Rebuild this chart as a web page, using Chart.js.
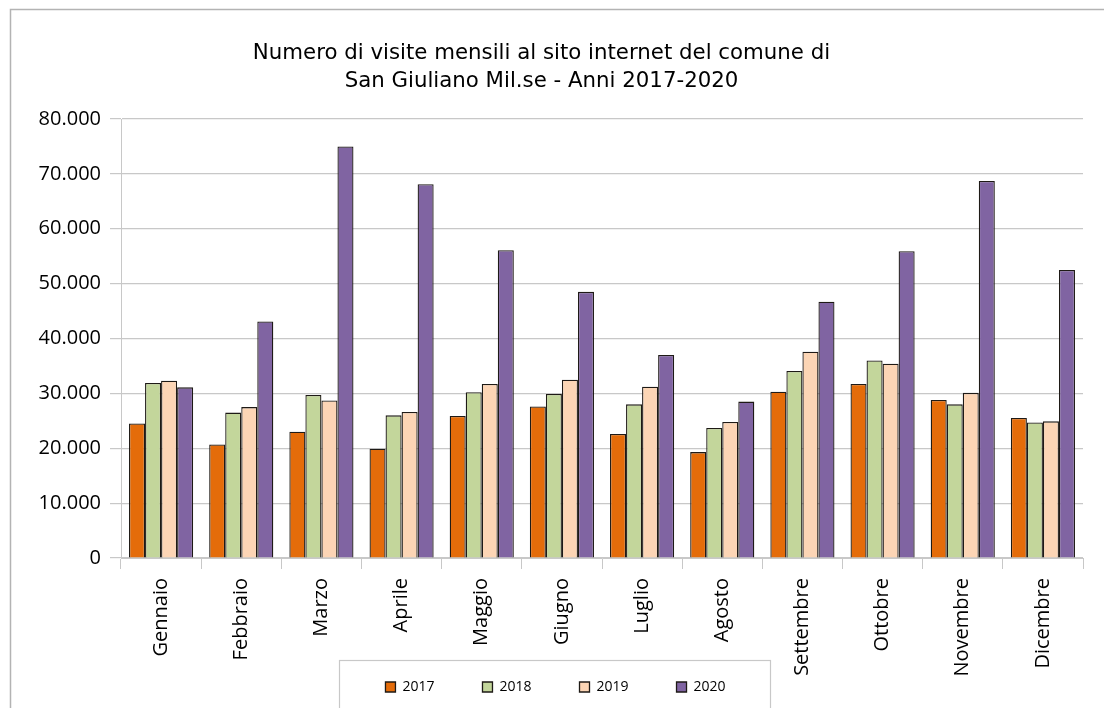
<!DOCTYPE html>
<html>
<head>
<meta charset="utf-8">
<script src="https://cdn.jsdelivr.net/npm/chart.js@4/dist/chart.umd.min.js"></script>
<style>
  html, body { margin: 0; padding: 0; background: #ffffff; }
  #wrap { width: 1104px; height: 708px; }
</style>
</head>
<body>
<div id="wrap"><canvas id="c" width="1104" height="708"></canvas></div>
<script>
const months = ["Gennaio","Febbraio","Marzo","Aprile","Maggio","Giugno","Luglio","Agosto","Settembre","Ottobre","Novembre","Dicembre"];
const seriesNames = ["2017","2018","2019","2020"];
const visits2017 = [24500, 20700, 23000, 19900, 25900, 27600, 22600, 19300, 30300, 31700, 28800, 25500];
const visits2018 = [31900, 26500, 29700, 26000, 30200, 29900, 28000, 23700, 34100, 36000, 28000, 24700];
const visits2019 = [32300, 27500, 28700, 26600, 31700, 32500, 31200, 24800, 37600, 35400, 30100, 24900];
const visits2020 = [31100, 43100, 75000, 68100, 56100, 48500, 37000, 28500, 46700, 55900, 68700, 52500];
const titleLines = ["Numero di visite mensili al sito internet del comune di", "San Giuliano Mil.se - Anni 2017-2020"];
const yMin = 0, yMax = 80000, yStep = 10000;

const colors = ["#e46c0a", "#c3d69b", "#fcd5b5", "#8064a2"];
const allSeries = [visits2017, visits2018, visits2019, visits2020];
const LEGEND_PAD = 48;

function fmt(v) {
  return String(v).replace(/\B(?=(\d{3})+(?!\d))/g, ".");
}

const framePlugin = {
  id: "frames",
  afterLayout(chart) {
    const xs = chart.scales.x;
    // let rotated month labels extend below the (shortened) axis box
    xs._computeLabelArea = function () {
      return { top: this.top, left: 0, bottom: this.chart.height, right: this.chart.width };
    };
    // legend sits slightly right of the canvas centre
    const lg = chart.legend;
    if (lg) lg.left += 28;
  },
  afterDraw(chart) {
    const ctx = chart.ctx;
    ctx.save();
    // outer chart border (top & left visible)
    ctx.strokeStyle = "#b3b3b3";
    ctx.lineWidth = 1.5;
    ctx.strokeRect(10.5, 9.5, 1200, 800);
    // legend frame
    const lg = chart.legend;
    if (lg && lg.lineWidths && lg.lineWidths.length) {
      const lw = lg.lineWidths[0];
      const start = (lg.left + LEGEND_PAD + lg.right - lw) / 2;
      const l = start - 46;
      const r = start + lw - LEGEND_PAD + 45;
      const t = lg.top + LEGEND_PAD - 20;
      ctx.strokeStyle = "#c8c8c8";
      ctx.lineWidth = 1.2;
      ctx.strokeRect(Math.round(l) + 0.5, Math.round(t) + 0.5, Math.round(r - l), 800);
    }
    ctx.restore();
  }
};

new Chart(document.getElementById("c"), {
  type: "bar",
  data: {
    labels: months,
    datasets: seriesNames.map((n, i) => ({
      label: n,
      data: allSeries[i],
      backgroundColor: colors[i],
      borderColor: "#1e1a16",
      borderWidth: 1.3,
      categoryPercentage: 0.8,
      barPercentage: 1.0
    }))
  },
  options: {
    responsive: false,
    animation: false,
    devicePixelRatio: 1,
    layout: { padding: { left: 0, right: 21, top: 0, bottom: 4 } },
    plugins: {
      title: {
        display: true,
        text: titleLines,
        color: "#000",
        font: { family: "DejaVu Sans", size: 21.3, weight: "normal", lineHeight: 1.315 },
        padding: { top: 39, bottom: 24 }
      },
      legend: {
        display: true,
        position: "bottom",
        labels: {
          color: "#000",
          font: { family: "Open Sans", size: 14 },
          boxWidth: 10,
          boxHeight: 10,
          padding: LEGEND_PAD
        }
      },
      tooltip: { enabled: false }
    },
    scales: {
      x: {
        grid: { display: true, drawOnChartArea: false, drawTicks: true, tickLength: 11, color: "#c8c8c8", offset: true },
        border: { display: true, color: "#c8c8c8" },
        ticks: { color: "#000", font: { family: "Open Sans", size: 20 }, minRotation: 90, maxRotation: 90, padding: 9, autoSkip: false },
        afterFit(scale) { scale.height = 74; }
      },
      y: {
        min: yMin, max: yMax,
        grid: { color: "#c8c8c8", drawTicks: true, tickLength: 11, lineWidth: 1.2 },
        border: { display: true, color: "#c8c8c8" },
        ticks: { stepSize: yStep, color: "#000", font: { family: "Open Sans", size: 20 }, padding: 9, callback: v => fmt(v) },
        afterFit(scale) { scale.width = 121; }
      }
    }
  },
  plugins: [framePlugin]
});
</script>
</body>
</html>
